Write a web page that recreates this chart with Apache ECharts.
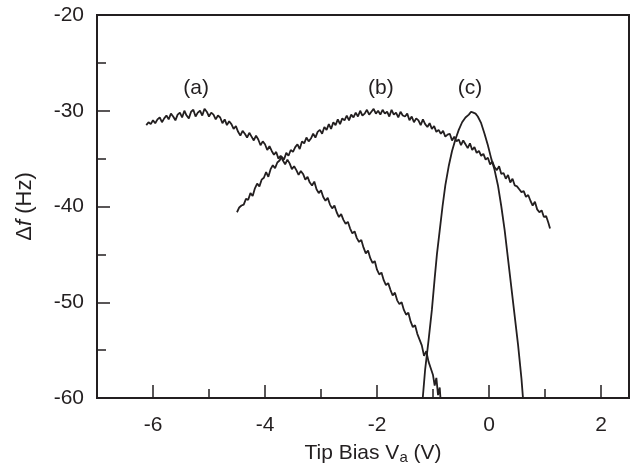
<!DOCTYPE html>
<html>
<head>
<meta charset="utf-8">
<script src="https://cdn.jsdelivr.net/npm/echarts@6/dist/echarts.min.js"></script>
<style>
html,body{margin:0;padding:0;background:#fff;}
#chart{width:632px;height:470px;}
</style>
</head>
<body>
<div id="chart"></div>
<script>
// Curve (a)
var curveA = [
[-6.12,-31.5],[-6.08,-31.2],[-6.04,-31.4],[-6.00,-31.0],[-5.96,-31.3],[-5.92,-30.9],[-5.88,-30.7],[-5.84,-31.2],
[-5.80,-30.8],[-5.76,-30.5],[-5.72,-30.9],[-5.68,-30.3],[-5.64,-30.6],[-5.60,-31.0],[-5.56,-30.4],[-5.52,-30.2],
[-5.48,-30.7],[-5.44,-30.0],[-5.40,-30.5],[-5.36,-30.8],[-5.32,-30.1],[-5.28,-29.9],[-5.24,-30.6],[-5.20,-30.2],
[-5.16,-30.0],[-5.12,-30.5],[-5.08,-29.8],[-5.04,-30.1],[-5.00,-30.6],[-4.96,-30.2],[-4.92,-30.4],[-4.88,-30.9],
[-4.84,-30.5],[-4.80,-30.7],[-4.76,-31.3],[-4.72,-30.9],[-4.68,-31.5],[-4.64,-31.1],[-4.60,-31.4],[-4.56,-31.9],
[-4.52,-31.6],[-4.48,-32.2],[-4.44,-32.6],[-4.40,-32.1],[-4.36,-32.4],[-4.32,-32.8],[-4.28,-32.3],[-4.24,-32.7],
[-4.20,-33.1],[-4.16,-32.6],[-4.12,-33.0],[-4.08,-33.6],[-4.04,-33.2],[-4.00,-33.5],[-3.96,-34.1],[-3.92,-33.7],
[-3.88,-34.2],[-3.84,-34.6],[-3.80,-34.3],[-3.76,-35.0],[-3.72,-34.7],[-3.68,-35.2],[-3.64,-35.6],[-3.60,-35.1],
[-3.56,-35.5],[-3.52,-36.1],[-3.48,-35.8],[-3.44,-36.2],[-3.40,-36.7],[-3.36,-36.3],[-3.32,-36.6],[-3.28,-37.2],
[-3.24,-36.9],[-3.20,-37.5],[-3.16,-37.8],[-3.12,-37.4],[-3.08,-38.2],[-3.04,-38.6],[-3.00,-38.3],[-2.96,-39.0],
[-2.92,-39.4],[-2.88,-39.1],[-2.84,-39.8],[-2.80,-40.2],[-2.76,-39.9],[-2.72,-40.6],[-2.68,-41.1],[-2.64,-40.8],
[-2.60,-41.4],[-2.56,-41.8],[-2.52,-41.6],[-2.48,-42.3],[-2.44,-42.8],[-2.40,-42.6],[-2.36,-43.3],[-2.32,-43.7],
[-2.28,-43.5],[-2.24,-44.3],[-2.20,-44.9],[-2.16,-44.6],[-2.12,-45.4],[-2.08,-45.9],[-2.04,-45.7],[-2.00,-46.6],
[-1.96,-47.1],[-1.92,-46.9],[-1.88,-47.7],[-1.84,-48.2],[-1.80,-48.0],[-1.76,-48.7],[-1.72,-49.3],[-1.68,-49.0],
[-1.64,-49.8],[-1.60,-50.2],[-1.56,-50.0],[-1.52,-50.8],[-1.48,-51.3],[-1.44,-51.1],[-1.40,-52.0],[-1.36,-52.6],
[-1.32,-52.4],[-1.28,-53.3],[-1.24,-53.9],[-1.20,-54.5],[-1.16,-55.6],[-1.12,-55.1],[-1.08,-56.2],[-1.04,-56.9],
[-1.00,-57.6],[-0.97,-58.7],[-0.94,-57.9],[-0.91,-59.7],[-0.88,-58.9],[-0.86,-60.6]
];
// Curve (b)
var curveB = [
[-4.50,-40.6],[-4.46,-40.1],[-4.42,-39.9],[-4.38,-39.8],[-4.34,-39.2],[-4.30,-39.3],[-4.26,-38.6],[-4.22,-38.9],
[-4.18,-38.1],[-4.14,-37.6],[-4.10,-37.9],[-4.06,-37.2],[-4.02,-37.0],[-3.98,-36.4],[-3.94,-36.9],[-3.90,-36.1],
[-3.86,-35.7],[-3.82,-36.0],[-3.78,-35.4],[-3.74,-35.2],[-3.70,-34.8],[-3.66,-35.1],[-3.62,-34.4],[-3.58,-34.7],
[-3.54,-34.1],[-3.50,-34.3],[-3.46,-33.8],[-3.42,-33.5],[-3.38,-34.0],[-3.34,-33.2],[-3.30,-33.4],[-3.26,-32.8],
[-3.22,-33.2],[-3.18,-32.9],[-3.14,-32.4],[-3.10,-32.8],[-3.06,-32.2],[-3.02,-32.0],[-2.98,-32.4],[-2.94,-31.7],
[-2.90,-32.0],[-2.86,-31.4],[-2.82,-31.9],[-2.78,-31.2],[-2.74,-31.5],[-2.70,-30.9],[-2.66,-31.4],[-2.62,-30.8],
[-2.58,-31.0],[-2.54,-30.5],[-2.50,-31.0],[-2.46,-30.4],[-2.42,-30.7],[-2.38,-30.2],[-2.34,-30.6],[-2.30,-30.0],
[-2.26,-30.5],[-2.22,-30.3],[-2.18,-29.9],[-2.14,-30.4],[-2.10,-30.1],[-2.06,-29.8],[-2.02,-30.3],[-1.98,-30.0],
[-1.94,-30.4],[-1.90,-29.9],[-1.86,-30.3],[-1.82,-30.1],[-1.78,-30.6],[-1.74,-29.9],[-1.70,-30.4],[-1.66,-30.2],
[-1.62,-30.7],[-1.58,-30.1],[-1.54,-30.5],[-1.50,-30.6],[-1.46,-30.3],[-1.42,-31.0],[-1.38,-30.6],[-1.34,-31.2],
[-1.30,-30.8],[-1.26,-31.0],[-1.22,-31.5],[-1.18,-30.9],[-1.14,-31.4],[-1.10,-31.7],[-1.06,-31.3],[-1.02,-31.9],
[-0.98,-31.6],[-0.94,-32.2],[-0.90,-32.0],[-0.86,-32.4],[-0.82,-32.1],[-0.78,-32.7],[-0.74,-32.5],[-0.70,-32.4],
[-0.66,-33.1],[-0.62,-32.7],[-0.58,-33.2],[-0.54,-33.0],[-0.50,-33.6],[-0.46,-33.1],[-0.42,-33.5],[-0.38,-33.9],
[-0.34,-33.4],[-0.30,-34.1],[-0.26,-33.8],[-0.22,-34.4],[-0.18,-34.2],[-0.14,-34.7],[-0.10,-34.5],[-0.06,-35.1],
[-0.02,-34.9],[0.02,-35.6],[0.06,-35.3],[0.10,-35.9],[0.14,-36.2],[0.18,-35.8],[0.22,-36.6],[0.26,-36.5],
[0.30,-37.1],[0.34,-36.7],[0.38,-37.5],[0.42,-37.1],[0.46,-37.8],[0.50,-37.9],[0.54,-38.2],[0.58,-38.5],
[0.62,-38.4],[0.66,-39.0],[0.70,-38.8],[0.74,-39.4],[0.78,-39.9],[0.82,-39.5],[0.86,-40.3],[0.90,-40.6],
[0.94,-40.4],[0.98,-41.1],[1.02,-41.0],[1.06,-41.7],[1.09,-42.3]
];
// Curve (c)
var curveC = [
[-1.19,-60.5],[-1.14,-57.0],[-1.08,-54.0],[-1.02,-50.8],[-0.97,-47.5],[-0.93,-45.0],[-0.88,-42.5],[-0.83,-40.0],
[-0.78,-37.8],[-0.72,-35.8],[-0.66,-34.2],[-0.60,-33.0],[-0.54,-32.0],[-0.48,-31.2],[-0.42,-30.7],[-0.36,-30.4],
[-0.32,-30.1],[-0.28,-30.2],[-0.24,-30.3],[-0.20,-30.6],[-0.14,-31.3],[-0.08,-32.4],[-0.02,-33.6],[0.04,-35.0],
[0.10,-36.2],[0.16,-37.8],[0.22,-40.0],[0.28,-42.5],[0.34,-45.5],[0.40,-48.5],[0.46,-51.5],[0.52,-54.5],
[0.58,-58.0],[0.62,-61.0]
];
var curveNames = ['(a)', '(b)', '(c)'];
var curveLabelX = [-5.23, -1.93, -0.34];
var curveLabelY = [-27.6, -27.6, -27.6];

var xMajorTicks = [-6, -4, -2, 0, 2];
var xMinorTicks = [-5, -3, -1, 1];

var ink = '#231f20';
var fontFam = '"Liberation Sans", Arial, Helvetica, sans-serif';

var chart = echarts.init(document.getElementById('chart'), null, {renderer: 'canvas'});

var labelData = curveNames.map(function (n, i) { return {value: [curveLabelX[i], curveLabelY[i]], name: n}; });

function lineSeries(d) {
  return {type: 'line', data: d, showSymbol: false, symbol: 'none', clip: true,
    lineStyle: {color: ink, width: 1.8}, animation: false};
}

chart.setOption({
  animation: false,
  grid: {left: 97, right: 3, top: 15, bottom: 72, show: true, borderColor: ink, borderWidth: 2, backgroundColor: 'transparent'},
  xAxis: [{
    type: 'value', min: -7, max: 2.5,
    axisLine: {show: true, onZero: false, lineStyle: {color: ink, width: 2}},
    axisTick: {show: true, inside: true, length: 13, lineStyle: {color: ink, width: 1.5}, customValues: xMajorTicks},
    axisLabel: {customValues: xMajorTicks, color: ink, fontSize: 21, fontFamily: fontFam, margin: 17},
    splitLine: {show: false},
    name: '{n|Tip Bias V}{s|a}{n| (V)}',
    nameLocation: 'middle', nameGap: 43,
    nameTextStyle: {color: ink, fontFamily: fontFam, padding: [0, 0, 0, 20], rich: {
      n: {fontSize: 21, color: ink, fontFamily: fontFam},
      s: {fontSize: 15, color: ink, fontFamily: fontFam, verticalAlign: 'bottom', padding: [9, 0, 0, 0]}
    }}
  }, {
    type: 'value', min: -7, max: 2.5, position: 'bottom',
    axisLine: {show: false, onZero: false},
    axisTick: {show: true, inside: true, length: 9, lineStyle: {color: ink, width: 1.5}, customValues: xMinorTicks},
    axisLabel: {show: false},
    splitLine: {show: false}
  }],
  yAxis: {
    type: 'value', min: -60, max: -20, interval: 10,
    axisLine: {show: true, onZero: false, lineStyle: {color: ink, width: 2}},
    axisTick: {show: true, inside: true, length: 13, lineStyle: {color: ink, width: 1.5}},
    minorTick: {show: true, splitNumber: 2, length: 9, lineStyle: {color: ink, width: 1.5}},
    axisLabel: {color: ink, fontSize: 21, fontFamily: fontFam, margin: 13},
    splitLine: {show: false},
    minorSplitLine: {show: false},
    name: '{d|Δ}{f|f}{d| (Hz)}',
    nameLocation: 'middle', nameGap: 61, nameRotate: 90,
    nameTextStyle: {color: ink, rich: {
      d: {fontSize: 22, color: ink, fontFamily: fontFam},
      f: {fontSize: 22, color: ink, fontFamily: fontFam, fontStyle: 'italic'}
    }}
  },
  series: [
    lineSeries(curveA),
    lineSeries(curveB),
    lineSeries(curveC),
    {type: 'scatter', data: labelData, symbolSize: 1, animation: false,
      itemStyle: {opacity: 0},
      label: {show: true, position: 'inside', formatter: '{b}', color: ink, opacity: 1, fontSize: 21, fontFamily: fontFam},
      emphasis: {disabled: true}}
  ]
});
</script>
</body>
</html>
